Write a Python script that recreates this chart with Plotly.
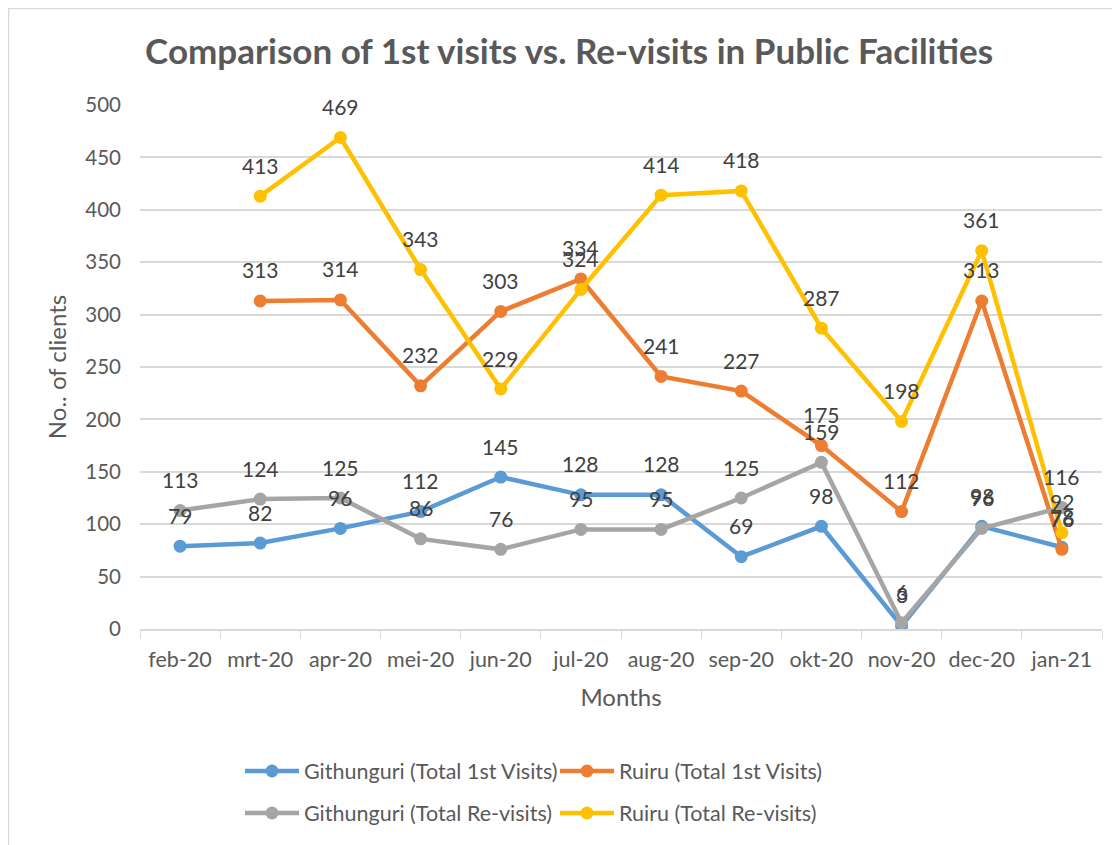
import plotly.graph_objects as go

months = ["feb-20", "mrt-20", "apr-20", "mei-20", "jun-20", "jul-20",
          "aug-20", "sep-20", "okt-20", "nov-20", "dec-20", "jan-21"]
githunguri_first = [79, 82, 96, 112, 145, 128, 128, 69, 98, 3, 98, 78]
ruiru_first = [None, 313, 314, 232, 303, 334, 241, 227, 175, 112, 313, 76]
githunguri_re = [113, 124, 125, 86, 76, 95, 95, 125, 159, 6, 96, 116]
ruiru_re = [None, 413, 469, 343, 229, 324, 414, 418, 287, 198, 361, 92]

series = [
    ("Githunguri (Total 1st Visits)", githunguri_first, "#5B9BD5", "legend"),
    ("Ruiru (Total 1st Visits)", ruiru_first, "#ED7D31", "legend"),
    ("Githunguri (Total Re-visits)", githunguri_re, "#A5A5A5", "legend2"),
    ("Ruiru (Total Re-visits)", ruiru_re, "#FFC000", "legend2"),
]

FONT = "Lato"
TXT = "#595959"

fig = go.Figure()
annotations = []
for name, vals, color, leg in series:
    fig.add_trace(go.Scatter(
        x=months, y=vals, name=name, mode="lines+markers",
        line=dict(color=color, width=4.5),
        marker=dict(color=color, size=13),
        connectgaps=False, legend=leg,
    ))
    for m, v in zip(months, vals):
        if v is None:
            continue
        annotations.append(dict(
            x=m, y=v, text=str(v), showarrow=False, yshift=31,
            font=dict(family=FONT, size=21, color="#404040"),
        ))

# figure pixel coordinates (page is offset by 8px body margin)
W, H = 1120, 845
ml, mr, mt, mb = 132, 26, 97, 224
pw, ph = W - ml - mr, H - mt - mb

def px_x(p):
    return (p - ml) / pw

def px_y(p):
    return (H - mb - p) / ph

legend_common = dict(
    orientation="h", xanchor="left", yanchor="middle",
    entrywidth=246, entrywidthmode="pixels", itemwidth=54,
    font=dict(family=FONT, size=21.5, color=TXT),
    bgcolor="rgba(0,0,0,0)",
)

fig.update_layout(
    width=W, height=H,
    margin=dict(l=ml, r=mr, t=mt, b=mb, autoexpand=False),
    paper_bgcolor="white", plot_bgcolor="white",
    font=dict(family=FONT, color=TXT),
    title=dict(text="<b>Comparison of 1st visits vs. Re-visits in Public Facilities</b>",
               x=0.501, xref="container", xanchor="center",
               y=1 - 44 / H, yref="container", yanchor="middle",
               font=dict(family=FONT, size=35, color=TXT)),
    xaxis=dict(
        type="category", range=[-0.5, 11.5],
        showgrid=False, zeroline=False,
        showline=True, linecolor="#D9D9D9", linewidth=1.5,
        ticks="outside", tickson="boundaries", ticklen=8, tickcolor="#D9D9D9",
        ticklabelstandoff=10,
        tickfont=dict(family=FONT, size=21.5, color=TXT),
        title=dict(text="Months", font=dict(family=FONT, size=24, color=TXT), standoff=19),
    ),
    yaxis=dict(
        range=[0, 500], dtick=50, tick0=0,
        showgrid=True, gridcolor="#D9D9D9", gridwidth=1.5,
        zeroline=False, showline=False,
        tickfont=dict(family=FONT, size=20.5, color=TXT),
        ticks="", ticklabelstandoff=18,
        title=dict(text="No.. of clients", font=dict(family=FONT, size=24, color=TXT), standoff=11),
    ),
    legend=dict(x=px_x(232), y=px_y(763), **legend_common),
    legend2=dict(x=px_x(232), y=px_y(805), **legend_common),
    annotations=annotations,
    shapes=[dict(type="rect", xref="paper", yref="paper",
                 x0=px_x(0.5), x1=px_x(1130), y0=px_y(860), y1=px_y(0.5),
                 line=dict(color="#D9D9D9", width=1.5), layer="below")],
)

fig.write_html("out.html")
